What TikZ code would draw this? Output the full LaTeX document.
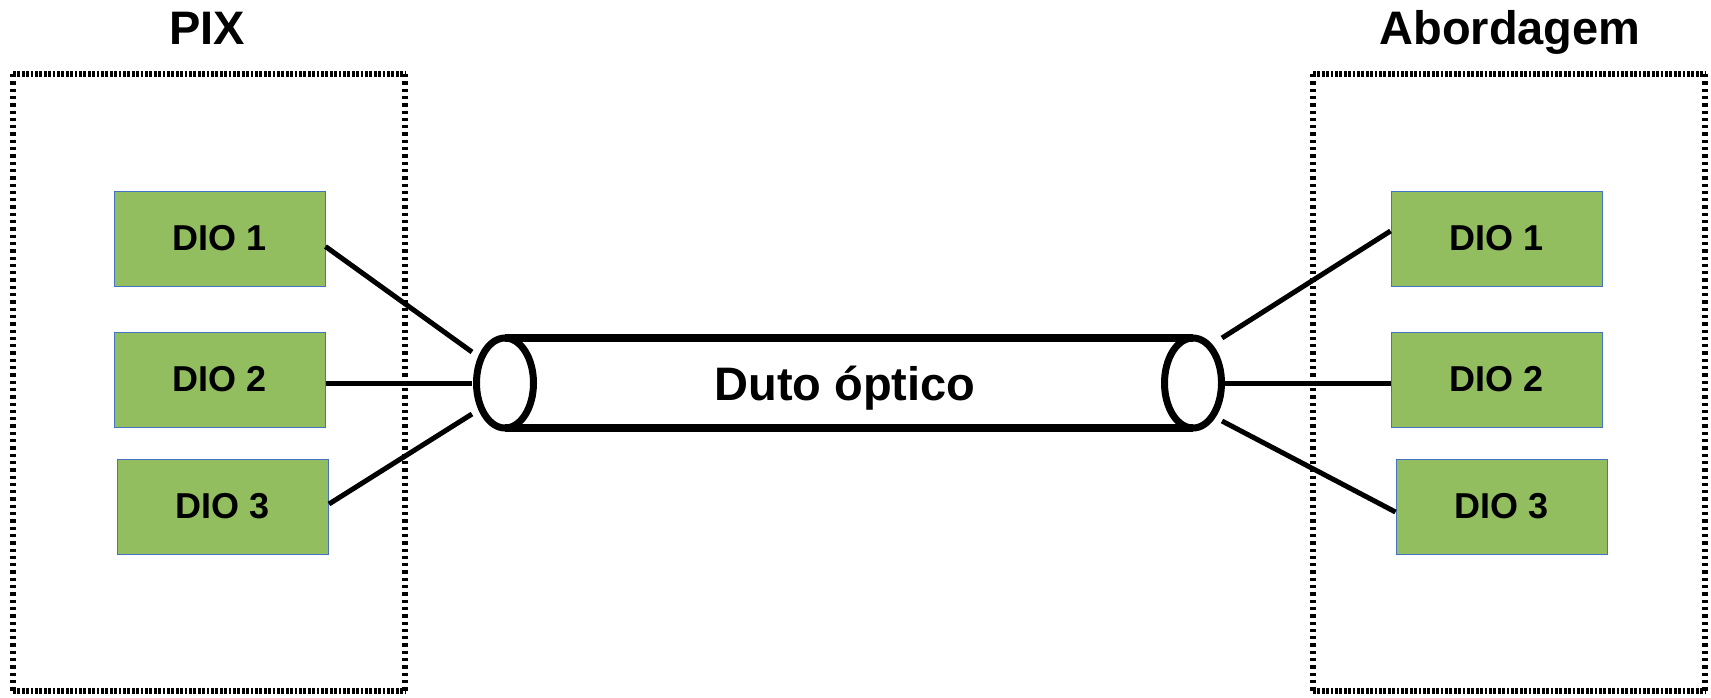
\documentclass[tikz,border=0pt]{standalone}
\usepackage{fontspec}
\setmainfont{Liberation Sans}
\usetikzlibrary{shapes.geometric}
\definecolor{diogreen}{RGB}{147,190,95}
\definecolor{dioblue}{RGB}{68,114,196}
\begin{document}
\begin{tikzpicture}[x=1pt,y=-1pt,
  hframe/.style={draw=black,line width=6.5pt,dash pattern=on 2.7pt off 1.7pt},
  vframe/.style={draw=black,line width=6.5pt,dash pattern=on 3.3pt off 4pt},
  diobox/.style={draw=dioblue,fill=diogreen,line width=1pt,minimum width=211pt,minimum height=95pt,inner sep=0pt,font=\fontsize{36}{42}\selectfont\bfseries},
  title/.style={anchor=base,inner sep=0pt,font=\fontsize{47}{56}\selectfont\bfseries},
  endcap/.style={draw=black,ellipse,line width=7pt,minimum width=57pt,minimum height=90pt,inner sep=0pt,outer sep=0pt},
  tube/.style={line width=8pt},
  wire/.style={line width=5pt}]
\useasboundingbox (0,0) rectangle (1711,697);
% frames
\coordinate (f1a) at (13,74); \coordinate (f1b) at (405,74);
\coordinate (f1c) at (405,691); \coordinate (f1d) at (13,691);
\coordinate (f2a) at (1313,74); \coordinate (f2b) at (1705,74);
\coordinate (f2c) at (1705,691); \coordinate (f2d) at (1313,691);
\draw[hframe] (f1a) -- (f1b);
\draw[hframe] (f1d) -- (f1c);
\draw[vframe] (f1a) -- (f1d);
\draw[vframe] (f1b) -- (f1c);
\draw[hframe] (f2a) -- (f2b);
\draw[hframe] (f2d) -- (f2c);
\draw[vframe] (f2a) -- (f2d);
\draw[vframe] (f2b) -- (f2c);
% titles
\node[title] (tpix) at (207,44) {PIX};
\node[title] (tab) at (1510,44) {Abordagem};
% DIO boxes
\node[diobox] (L1) at (219.5,238.5) {DIO 1};
\node[diobox] (L2) at (219.5,379.5) {DIO 2};
\node[diobox] (L3) at (223,506.5) {DIO 3};
\node[diobox] (R1) at (1496.5,238.5) {DIO 1};
\node[diobox] (R2) at (1496.5,379.5) {DIO 2};
\node[diobox] (R3) at (1501.5,506.5) {DIO 3};
% tube
\node[endcap] (e1) at (505,383) {};
\node[endcap] (e2) at (1193,383) {};
\draw[tube] (e1.north) -- (e2.north);
\draw[tube] (e1.south) -- (e2.south);
\node[title] (duto) at (845,400) {Duto óptico};
% wire end points
\coordinate (a1) at (472,352);
\coordinate (a2) at (472,383);
\coordinate (a3) at (472,414);
\coordinate (b1) at (1222,338);
\coordinate (b2) at (1224,383);
\coordinate (b3) at (1222,421);
% wires
\draw[wire] ([yshift=-8pt]L1.east) -- (a1);
\draw[wire] ([yshift=-3.5pt]L2.east) -- (a2);
\draw[wire] ([yshift=2.5pt]L3.east) -- (a3);
\draw[wire] ([yshift=7.5pt]R1.west) -- (b1);
\draw[wire] ([yshift=-3.5pt]R2.west) -- (b2);
\draw[wire] ([yshift=-5.5pt]R3.west) -- (b3);
\end{tikzpicture}
\end{document}
